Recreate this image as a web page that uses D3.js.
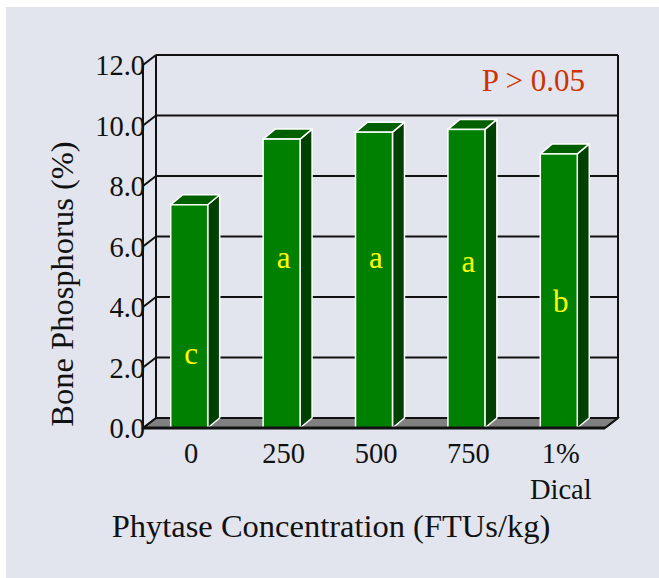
<!DOCTYPE html>
<html>
<head>
<meta charset="utf-8">
<script src="https://cdn.jsdelivr.net/npm/d3@7"></script>
<style>
  html, body { margin: 0; padding: 0; background: #fff; }
  svg { display: block; }
  text { font-family: 'Liberation Serif', 'Times New Roman', serif; }
</style>
</head>
<body>
<div id="root"></div>
<script>
// Data
const categories = ['0', '250', '500', '750', '1%\nDical'];
const boneP = [7.38, 9.55, 9.78, 9.87, 9.06];
const letters = ['c', 'a', 'a', 'a', 'b'];
const letterAt = [2.1, 5.3, 5.3, 5.15, 3.85];
const yTicks = [0, 2, 4, 6, 8, 10, 12];

const width = 659;
const height = 578;

const svg = d3.select('#root').append('svg')
  .attr('width', width)
  .attr('height', height);

// panel
svg.append('rect')
  .attr('x', 6).attr('y', 7)
  .attr('width', width - 6).attr('height', height - 7)
  .attr('fill', '#e2e5ee');

// scales (front plane); back wall is offset by depth
const depth = { dx: 13, dy: -10 };
const barDepth = { dx: 12, dy: -10 };

const x = d3.scaleBand().domain(categories).range([143, 605]).padding(0);
const y = d3.scaleLinear().domain([0, 12]).range([428, 65]);
const barW = x.bandwidth() * 0.4;
const xFront0 = x.range()[0];
const xFront1 = x.range()[1];

const walls = svg.append('g');

// floor
walls.append('polygon')
  .attr('points', [
    [xFront0, y(0)],
    [xFront0 + depth.dx, y(0) + depth.dy],
    [xFront1 + depth.dx, y(0) + depth.dy],
    [xFront1, y(0)],
  ].join(' '))
  .attr('fill', '#808080')
  .attr('stroke', '#111')
  .attr('stroke-width', 1.5);

// grid lines on back wall + diagonal connectors
yTicks.forEach((t) => {
  walls.append('line')
    .attr('x1', xFront0 + depth.dx).attr('x2', xFront1 + depth.dx)
    .attr('y1', y(t) + depth.dy).attr('y2', y(t) + depth.dy)
    .attr('stroke', '#111').attr('stroke-width', 2);
  walls.append('line')
    .attr('x1', xFront0).attr('x2', xFront0 + depth.dx)
    .attr('y1', y(t)).attr('y2', y(t) + depth.dy)
    .attr('stroke', '#111').attr('stroke-width', 2);
});

// back wall left and right edges
[xFront0, xFront1].forEach((xx) => {
  walls.append('line')
    .attr('x1', xx + depth.dx).attr('x2', xx + depth.dx)
    .attr('y1', y(0) + depth.dy).attr('y2', y(12) + depth.dy)
    .attr('stroke', '#111').attr('stroke-width', 2);
});

// front vertical axis
walls.append('line')
  .attr('x1', xFront0).attr('x2', xFront0)
  .attr('y1', y(0)).attr('y2', y(12))
  .attr('stroke', '#111').attr('stroke-width', 2);

// bars
const bars = svg.append('g').selectAll('g')
  .data(boneP)
  .enter()
  .append('g');

function cx(i) {
  return x(categories[i]) + x.bandwidth() / 2;
}

bars.append('polygon') // side
  .attr('points', (d, i) => {
    const x1 = cx(i) + barW / 2;
    return [
      [x1, y(d)],
      [x1 + barDepth.dx, y(d) + barDepth.dy],
      [x1 + barDepth.dx, y(0) + barDepth.dy],
      [x1, y(0)],
    ].join(' ');
  })
  .attr('fill', '#004000')
  .attr('stroke', '#fff').attr('stroke-width', 1.5)
  .attr('stroke-linejoin', 'round');

bars.append('polygon') // top
  .attr('points', (d, i) => {
    const x0 = cx(i) - barW / 2;
    const x1 = cx(i) + barW / 2;
    return [
      [x0, y(d)],
      [x0 + barDepth.dx, y(d) + barDepth.dy],
      [x1 + barDepth.dx, y(d) + barDepth.dy],
      [x1, y(d)],
    ].join(' ');
  })
  .attr('fill', '#006000')
  .attr('stroke', '#fff').attr('stroke-width', 1.5)
  .attr('stroke-linejoin', 'round');

bars.append('rect') // front
  .attr('x', (d, i) => cx(i) - barW / 2)
  .attr('y', (d) => y(d))
  .attr('width', barW)
  .attr('height', (d) => y(0) - y(d))
  .attr('fill', '#008000')
  .attr('stroke', '#fff').attr('stroke-width', 1.5);

// front baseline
svg.append('line')
  .attr('x1', xFront0).attr('x2', xFront1)
  .attr('y1', y(0)).attr('y2', y(0))
  .attr('stroke', '#111').attr('stroke-width', 3);
svg.append('line')
  .attr('x1', xFront1).attr('x2', xFront1 + depth.dx)
  .attr('y1', y(0)).attr('y2', y(0) + depth.dy)
  .attr('stroke', '#111').attr('stroke-width', 2);

// letters inside bars
svg.append('g').selectAll('text')
  .data(letters)
  .enter()
  .append('text')
  .attr('x', (d, i) => cx(i) + 2)
  .attr('y', (d, i) => y(letterAt[i]))
  .attr('text-anchor', 'middle')
  .attr('font-size', 31)
  .attr('fill', '#ffff00')
  .text((d) => d);

// y tick labels
svg.append('g').selectAll('text')
  .data(yTicks)
  .enter()
  .append('text')
  .attr('x', xFront0 + 2)
  .attr('y', (d) => y(d) + 10)
  .attr('text-anchor', 'end')
  .attr('font-size', 28.5)
  .attr('fill', '#111')
  .text((d) => d3.format('.1f')(d));

// category labels
const catLabels = svg.append('g').selectAll('text')
  .data(categories)
  .enter()
  .append('text')
  .attr('text-anchor', 'middle')
  .attr('font-size', 28.5)
  .attr('fill', '#111');
catLabels.each(function (d, i) {
  d.split('\n').forEach((line, j) => {
    d3.select(this).append('tspan')
      .attr('x', cx(i) + 2)
      .attr('y', 463 + j * 36)
      .text(line);
  });
});

// axis titles
svg.append('text')
  .attr('x', 331).attr('y', 537)
  .attr('text-anchor', 'middle')
  .attr('font-size', 32.5)
  .attr('fill', '#111')
  .text('Phytase Concentration (FTUs/kg)');

svg.append('text')
  .attr('transform', 'translate(73,284) rotate(-90)')
  .attr('text-anchor', 'middle')
  .attr('font-size', 32.5)
  .attr('fill', '#111')
  .text('Bone Phosphorus (%)');

// significance note
svg.append('text')
  .attr('x', 585).attr('y', 91)
  .attr('text-anchor', 'end')
  .attr('font-size', 31)
  .attr('fill', '#cc3300')
  .text('P > 0.05');
</script>
</body>
</html>
